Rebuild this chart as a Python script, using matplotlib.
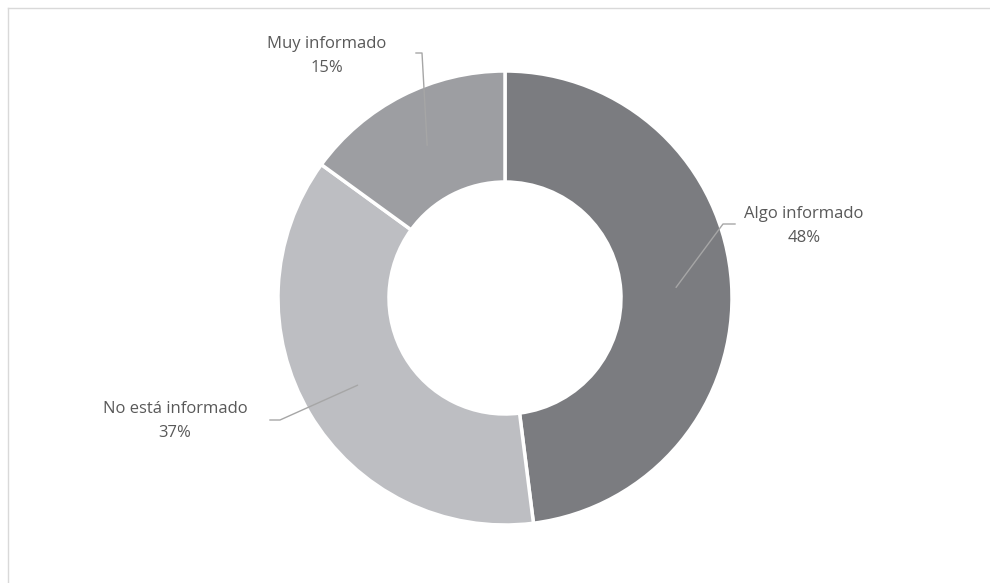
import numpy as np
import matplotlib
matplotlib.use("Agg")
import matplotlib.pyplot as plt
from matplotlib.lines import Line2D

# Survey answers: how well informed respondents are
categories = ["Algo informado", "No está informado", "Muy informado"]
shares = [48, 37, 15]
colors = ["#7b7c80", "#bdbec2", "#9d9ea2"]

W, H = 990, 583
fig = plt.figure(figsize=(W / 100, H / 100), dpi=100)
ax = fig.add_axes([0, 0, 1, 1])

cx, cy = 505, H - 298
r_out, r_in = 227, 116

wedges, _ = ax.pie(
    shares, colors=colors, startangle=90, counterclock=False,
    center=(cx, cy), radius=r_out, frame=True,
    wedgeprops=dict(width=r_out - r_in, edgecolor="white", linewidth=2.5),
)
ax.set_xlim(0, W)
ax.set_ylim(0, H)
ax.set_aspect("equal")
ax.axis("off")

# Label layout: elbow point, end of horizontal stub, text centre
layout = {
    "Algo informado": dict(elbow=(723, H - 224), end=(735, H - 224), text=(804, H - 226)),
    "No está informado": dict(elbow=(280, H - 420), end=(270, H - 420), text=(175, H - 421)),
    "Muy informado": dict(elbow=(422, H - 53), end=(416, H - 53), text=(327, H - 56)),
}

r_mid = (r_out + r_in) / 2
for w, name, val in zip(wedges, categories, shares):
    ang = np.deg2rad((w.theta1 + w.theta2) / 2)
    ax_, ay_ = cx + r_mid * np.cos(ang), cy + r_mid * np.sin(ang)
    L = layout[name]
    ex, ey = L["elbow"]
    sx, sy = L["end"]
    ax.add_line(Line2D([ax_, ex, sx], [ay_, ey, sy], color="#a6a6a6", lw=1.0))
    tx, ty = L["text"]
    ax.text(tx, ty, f"{name}\n{val}%", ha="center", va="center",
            fontsize=12, color="#595959", family="Open Sans", linespacing=1.7)

# Light frame along the top and left edges
fig.add_artist(Line2D([8 / W, 1], [1 - 8 / H, 1 - 8 / H], transform=fig.transFigure,
                      color="#d9d9d9", lw=1.0))
fig.add_artist(Line2D([8 / W, 8 / W], [0, 1 - 8 / H], transform=fig.transFigure,
                      color="#d9d9d9", lw=1.0))

fig.savefig("out.png", dpi=100, facecolor="white")
